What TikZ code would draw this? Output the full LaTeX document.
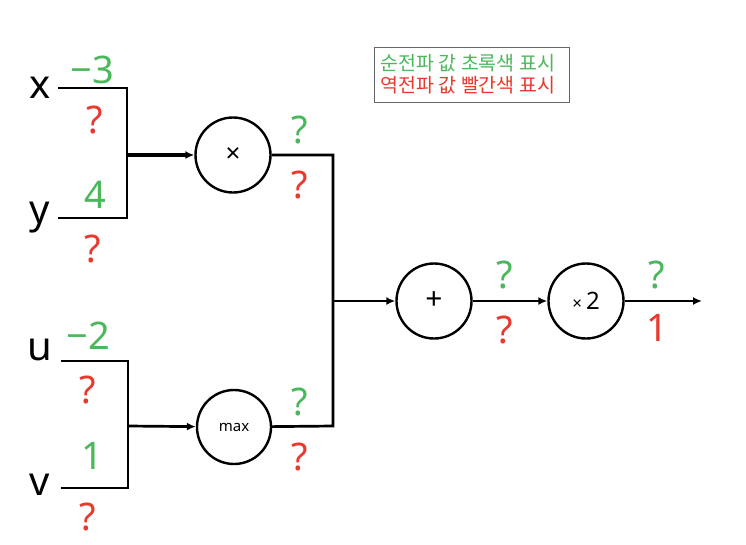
\documentclass[tikz,border=0pt]{standalone}
\usepackage{fontspec}
\setmainfont{Noto Sans}
\newfontfamily\kr{Noto Sans CJK KR}
\usetikzlibrary{arrows.meta}
\definecolor{fgreen}{RGB}{76,184,92}
\definecolor{fred}{RGB}{232,57,47}
\tikzset{
  x=1pt,y=-1pt,
  wire/.style={line width=2.7pt,line join=miter},
  arr/.style={wire,-{Latex[length=9pt,width=8pt]}},
  gate/.style={circle,draw,line width=2.4pt,minimum size=75pt,inner sep=0pt},
  var/.style={font=\fontsize{40}{40}\selectfont},
  fwd/.style={text=fgreen,font=\fontsize{38}{38}\selectfont},
  bwd/.style={text=fred,font=\fontsize{38}{38}\selectfont},
  legtext/.style={anchor=west,font=\kr\fontsize{19.5}{19.5}\selectfont},
}
\begin{document}
\begin{tikzpicture}
\useasboundingbox (0,0) rectangle (746,544);
\fill[white] (0,0) rectangle (746,544);
% inputs
\node[var] (lx) at (40,88) {x};
\node[var] (ly) at (40,218) {y};
\node[var] (lu) at (40,350) {u};
\node[var] (lv) at (40,485) {v};
\coordinate (xs) at (58,88);
\coordinate (ys) at (58,218);
\coordinate (us) at (61,361);
\coordinate (vs) at (61,488);
\coordinate (xc) at (127,88);
\coordinate (yc) at (127,218);
\coordinate (uc) at (128,361);
\coordinate (vc) at (128,488);
\coordinate (m1) at (127,155);
\coordinate (m2) at (128,426);
% gates
\node[gate,font=\bfseries\fontsize{26}{26}\selectfont] (mul) at (233,155) {×};
\node[gate,minimum size=74pt,font=\fontsize{15}{15}\selectfont] (mx) at (234,427) {max};
\node[gate,font=\fontsize{30}{30}\selectfont] (add) at (434,301) {+};
\node[gate,font=\fontsize{24}{24}\selectfont] (dbl) at (586,301) {{\fontsize{17}{17}\selectfont ×}\,2};
\coordinate (j1) at (333,155);
\coordinate (j2) at (333,426);
\coordinate (jm) at (333,301);
\coordinate (out) at (702,301);
% wires
\draw[wire] (xs) -- (xc) -- (yc) -- (ys);
\draw[wire] (us) -- (uc) -- (vc) -- (vs);
\draw[arr,line width=3.6pt] (m1) -- (mul);
\draw[arr] (m2) -- (mx);
\draw[wire] (mul) -- (j1) -- (j2) -- (mx);
\draw[arr] (jm) -- (add);
\draw[arr] (add) -- (dbl);
\draw[arr] (dbl) -- (out);
% values
\node[fwd] (vx) at (92,70) {\char"2212 3};
\node[bwd] (gx) at (95,120) {?};
\node[fwd] (vy) at (95,195) {4};
\node[bwd] (gy) at (93,249) {?};
\node[fwd] (vu) at (88,336) {\char"2212 2};
\node[bwd] (gu) at (88,390) {?};
\node[fwd] (vv) at (92,456) {1};
\node[bwd] (gv) at (88,517) {?};
\node[fwd] (vm) at (300,130) {?};
\node[bwd] (gm) at (300,185) {?};
\node[fwd] (vmx) at (300,402) {?};
\node[bwd] (gmx) at (300,457) {?};
\node[fwd] (va) at (505,275) {?};
\node[bwd] (ga) at (505,330) {?};
\node[fwd] (vd) at (657,275) {?};
\node[bwd] (gd) at (657,328) {1};
% legend
\node[draw=black!60,line width=1pt,minimum width=195pt,minimum height=55pt,inner sep=0pt] (leg) at (471.5,74.5) {};
\node[legtext,text=fgreen] (l1) at (377,63) {순전파 값 초록색 표시};
\node[legtext,text=fred] (l2) at (377,85) {역전파 값 빨간색 표시};
\end{tikzpicture}
\end{document}
